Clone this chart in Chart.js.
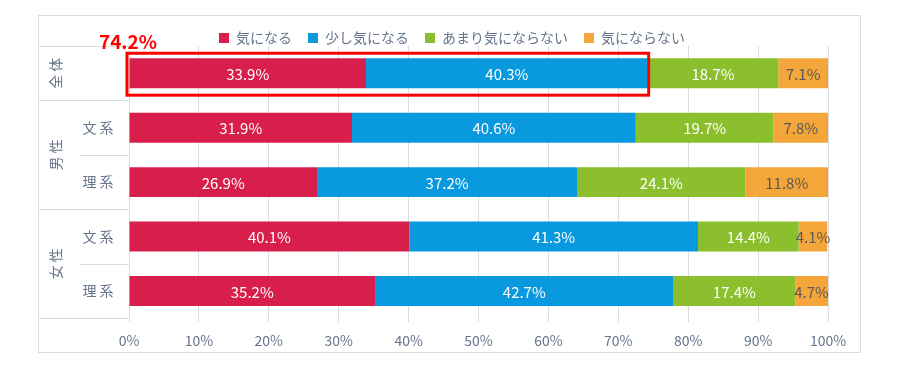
<!DOCTYPE html>
<html>
<head>
<meta charset="utf-8">
<script src="https://cdn.jsdelivr.net/npm/chart.js@4"></script>
<style>
  html, body { margin: 0; padding: 0; background: #fff; }
  #wrap { width: 900px; height: 368px; }
</style>
</head>
<body>
<div id="wrap"><canvas id="chart"></canvas></div>
<script>
// データ
const groups = ['全体', '男性', '男性', '女性', '女性'];
const subLabels = ['', '文系', '理系', '文系', '理系'];
const seriesNames = ['気になる', '少し気になる', 'あまり気にならない', '気にならない'];
const kininaru = [33.9, 31.9, 26.9, 40.1, 35.2];
const sukoshi = [40.3, 40.6, 37.2, 41.3, 42.7];
const amari = [18.7, 19.7, 24.1, 14.4, 17.4];
const naranai = [7.1, 7.8, 11.8, 4.1, 4.7];
const xTicks = [0, 10, 20, 30, 40, 50, 60, 70, 80, 90, 100];

const colors = ['#D81E4B', '#0899DF', '#8BBF2D', '#F5A63A'];
const labelColors = ['#ffffff', '#ffffff', '#ffffff', '#595959'];
const textGrey = '#66758c';
const lineGrey = '#d9dde3';
const FONT = "'Noto Sans CJK JP', 'Noto Sans', sans-serif";

// 枠・カテゴリ・ラベル等を描く
const decorations = {
    id: 'decorations',
    beforeDraw(chart) {
        const c = chart.ctx;
        c.save();
        c.strokeStyle = lineGrey;
        c.lineWidth = 1;
        c.strokeRect(38.5, 15.5, 822, 337);
        c.restore();
    },
    afterDatasetsDraw(chart) {
        const c = chart.ctx;
        const area = chart.chartArea;
        const yS = chart.scales.y;
        const xS = chart.scales.x;
        const half = (yS.getPixelForValue(1) - yS.getPixelForValue(0)) / 2;
        c.save();
        // 区切り線
        c.strokeStyle = lineGrey;
        c.lineWidth = 1;
        for (let i = 0; i <= groups.length; i++) {
            const y = Math.round(i < groups.length ? yS.getPixelForValue(i) - half : yS.getPixelForValue(i - 1) + half) + 0.5;
            const full = i === 0 || i === groups.length || groups[i] !== groups[i - 1];
            c.beginPath();
            c.moveTo(full ? 38 : 80, y);
            c.lineTo(area.left, y);
            c.stroke();
        }
        // グループラベル（回転）
        c.fillStyle = textGrey;
        c.font = '14px ' + FONT;
        c.textAlign = 'center';
        c.textBaseline = 'middle';
        let start = 0;
        for (let i = 1; i <= groups.length; i++) {
            if (i === groups.length || groups[i] !== groups[start]) {
                const yc = (yS.getPixelForValue(start) + yS.getPixelForValue(i - 1)) / 2;
                c.save();
                c.translate(56, yc);
                c.rotate(-Math.PI / 2);
                c.fillText(groups[start].split('').join(' '), 0, 0);
                c.restore();
                start = i;
            }
        }
        // サブラベル
        subLabels.forEach((s, i) => {
            if (s) c.fillText(s.split('').join(' '), 98, yS.getPixelForValue(i));
        });
        // データラベル
        c.font = '15px ' + FONT;
        chart.data.datasets.forEach((ds, di) => {
            const meta = chart.getDatasetMeta(di);
            c.fillStyle = labelColors[di];
            meta.data.forEach((bar, i) => {
                const cx = (bar.x + bar.base) / 2;
                c.fillText(ds.data[i].toFixed(1) + '%', cx, bar.y + 1);
            });
        });
        // 強調枠
        const b0 = chart.getDatasetMeta(0).data[0];
        const top2 = kininaru[0] + sukoshi[0];
        const x0 = xS.getPixelForValue(0) - 2;
        const x1 = xS.getPixelForValue(top2) + 1;
        const yTop = b0.y - b0.height / 2 - 5;
        const yBot = b0.y + b0.height / 2 + 7;
        c.strokeStyle = '#ff0000';
        c.lineWidth = 3;
        c.strokeRect(x0, yTop, x1 - x0, yBot - yTop);
        c.fillStyle = '#ff0000';
        c.font = 'bold 19px ' + FONT;
        c.fillText(top2.toFixed(1) + '%', xS.getPixelForValue(0) - 1, yTop - 11);
        c.restore();
    }
};

const values = [kininaru, sukoshi, amari, naranai];
const ctx = document.getElementById('chart').getContext('2d');
const chart = new Chart(ctx, {
    type: 'bar',
    data: {
        labels: subLabels.map((s, i) => groups[i] + s),
        datasets: seriesNames.map((name, i) => ({
            label: name,
            data: values[i],
            backgroundColor: colors[i],
            barPercentage: 0.55,
            categoryPercentage: 1
        }))
    },
    options: {
        indexAxis: 'y',
        responsive: true,
        maintainAspectRatio: false,
        animation: false,
        layout: { padding: { left: 76, right: 72, top: 15, bottom: 9 } },
        plugins: {
            legend: {
                position: 'top',
                maxHeight: 31,
                labels: {
                    boxWidth: 10,
                    boxHeight: 10,
                    padding: 16,
                    color: textGrey,
                    font: { family: FONT, size: 14 }
                }
            },
            tooltip: { enabled: false }
        },
        scales: {
            x: {
                stacked: true,
                min: 0,
                max: 100,
                afterBuildTicks(axis) { axis.ticks = xTicks.map(v => ({ value: v })); },
                ticks: {
                    color: textGrey,
                    font: { family: FONT, size: 14 },
                    padding: 10,
                    callback: v => v + '%'
                },
                grid: { color: lineGrey, tickLength: 4 },
                border: { display: false }
            },
            y: {
                stacked: true,
                ticks: { display: false },
                grid: { display: false },
                border: { display: false },
                afterFit(axis) { axis.width = 53; }
            }
        }
    },
    plugins: [decorations]
});
</script>
</body>
</html>
